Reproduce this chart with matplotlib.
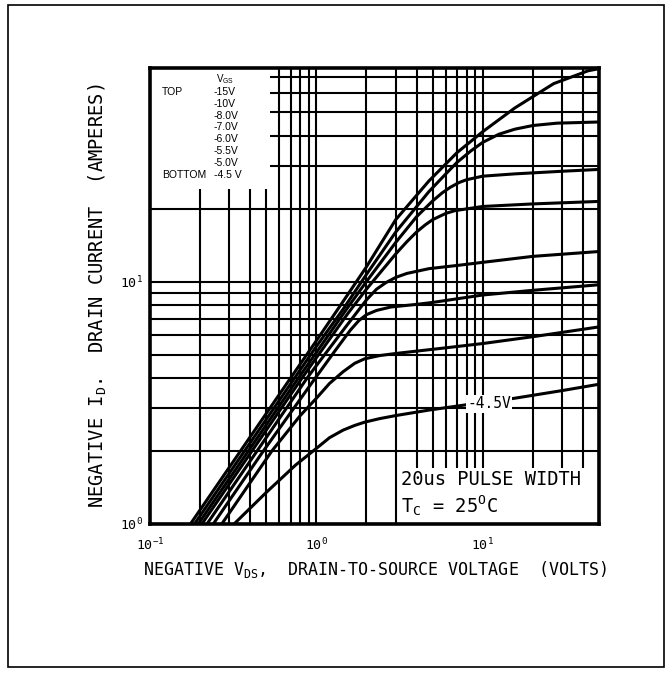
import matplotlib
matplotlib.use("Agg")
import matplotlib.pyplot as plt
from matplotlib.patches import Rectangle
from matplotlib.ticker import NullFormatter

# Output characteristics, one curve per gate voltage (Vds [V], Id [A])
vgs_labels = ["-15V", "-10V", "-8.0V", "-7.0V", "-6.0V", "-5.5V", "-5.0V", "-4.5 V"]

vds_15 = [0.175, 0.35, 0.7, 1.0, 1.4, 2.0, 3.0, 4.75, 7, 10, 15.6, 26.7, 43, 50]
id_15 = [1, 2, 4, 5.7, 8, 11.5, 18, 26, 34, 41.5, 52, 65.5, 74, 75.5]

vds_10 = [0.185, 0.37, 0.74, 1.0, 1.45, 2.0, 3.0, 4.75, 6, 7, 8.5, 10, 12.5, 15.6, 20, 28, 50]
id_10 = [1, 2, 4, 5.4, 7.7, 10.7, 16, 23.5, 27.8, 31, 34.6, 37.5, 40.5, 42.5, 44, 45, 45.5]

vds_8 = [0.195, 0.39, 0.78, 1.0, 1.5, 2.0, 3.0, 4.0, 5.0, 5.7, 6.4, 7.2, 8, 10, 15.6, 30, 50]
id_8 = [1, 2, 4, 5.1, 7.6, 10, 14.5, 18.5, 21.5, 23.2, 24.5, 25.6, 26.3, 27.2, 27.8, 28.5, 29]

vds_7 = [0.205, 0.41, 0.82, 1.0, 1.55, 2.0, 3.0, 3.5, 4.0, 4.5, 5.0, 6.0, 6.8, 10, 20, 50]
id_7 = [1, 2, 4, 4.85, 7.4, 9.3, 13, 14.6, 16, 17.1, 18, 19.1, 19.6, 20.4, 20.9, 21.4]

vds_6 = [0.22, 0.44, 0.88, 1.0, 1.5, 2.0, 2.3, 2.62, 3.0, 3.5, 4.75, 7.4, 10, 20, 50]
id_6 = [1, 2, 4, 4.5, 6.5, 8.4, 9.3, 9.9, 10.4, 10.8, 11.3, 11.7, 12.0, 12.7, 13.3]

vds_55 = [0.24, 0.48, 0.96, 1.3, 1.6, 1.8, 2.0, 2.3, 2.8, 4, 5, 10, 20, 50]
id_55 = [1, 2, 3.9, 5.2, 6.3, 6.9, 7.3, 7.6, 7.85, 8.05, 8.2, 8.8, 9.2, 9.7]

vds_5 = [0.27, 0.54, 0.8, 1.0, 1.2, 1.45, 1.7, 1.95, 2.4, 3, 5.6, 10, 21, 50]
id_5 = [1, 2, 2.8, 3.3, 3.8, 4.25, 4.6, 4.8, 4.95, 5.05, 5.3, 5.55, 5.95, 6.5]

vds_45 = [0.32, 0.5, 0.75, 1.0, 1.2, 1.45, 1.7, 1.95, 2.4, 3, 4.75, 7.9, 15.5, 30, 50]
id_45 = [1, 1.35, 1.75, 2.05, 2.27, 2.44, 2.55, 2.63, 2.72, 2.8, 2.95, 3.1, 3.3, 3.55, 3.77]

curves = [(vds_15, id_15), (vds_10, id_10), (vds_8, id_8), (vds_7, id_7),
          (vds_6, id_6), (vds_55, id_55), (vds_5, id_5), (vds_45, id_45)]

plt.rcParams["font.family"] = "DejaVu Sans Mono"
sans = "Liberation Sans"

fig = plt.figure(figsize=(6.72, 6.77), dpi=100)
fig.patches.append(Rectangle((0.012, 0.015), 0.976, 0.978, transform=fig.transFigure,
                             fill=False, edgecolor="black", linewidth=1.2))

ax = fig.add_axes([0.2232, 0.226, 0.6682, 0.6736])
ax.set_xscale("log")
ax.set_yscale("log")
ax.set_xlim(0.1, 50)
ax.set_ylim(1, 76)

ax.set_axisbelow(True)
ax.grid(which="both", color="black", linewidth=1.5)
for s in ax.spines.values():
    s.set_linewidth(2.6)

for vds, idr in curves:
    ax.plot(vds, idr, color="black", linewidth=2.2, zorder=3, solid_joinstyle="round")

ax.tick_params(which="both", length=0)
ax.xaxis.set_minor_formatter(NullFormatter())
ax.yaxis.set_minor_formatter(NullFormatter())
ax.tick_params(axis="x", pad=9, labelsize=9.5)
ax.tick_params(axis="y", pad=5, labelsize=9.5)

# legend block (white panel over the grid)
ax.add_patch(Rectangle((0, 0.735), 0.267, 0.265, transform=ax.transAxes,
                       facecolor="white", edgecolor="none", zorder=1))
ax.text(0.147, 0.975, r"V$_{\mathregular{GS}}$", transform=ax.transAxes,
        fontsize=7, family=sans, va="center")
row_y = [0.947, 0.921, 0.895, 0.871, 0.845, 0.819, 0.792, 0.766]
for lab, yy in zip(vgs_labels, row_y):
    ax.text(0.142, yy, lab, transform=ax.transAxes, fontsize=7.5, family=sans, va="center")
ax.text(0.027, row_y[0], "TOP", transform=ax.transAxes, fontsize=7.5, family=sans, va="center")
ax.text(0.027, row_y[-1], "BOTTOM", transform=ax.transAxes, fontsize=7.5, family=sans, va="center")

# test conditions panel
ax.add_patch(Rectangle((0.553, 0.0), 0.447, 0.123, transform=ax.transAxes,
                       facecolor="white", edgecolor="none", zorder=1))
ax.text(0.56, 0.097, "20us PULSE WIDTH", transform=ax.transAxes, fontsize=13.5,
        va="center")
ax.text(0.56, 0.04, r"T$_{\mathregular{C}}$ = 25$^{\mathregular{O}}$C", transform=ax.transAxes,
        fontsize=13.5, va="center")

ax.text(10.9, 3.13, "-4.5V", fontsize=10.5, ha="center", va="center", zorder=4,
        bbox=dict(facecolor="white", edgecolor="none", pad=1))

ax.set_xlabel(r"NEGATIVE V$_{\mathregular{DS}}$,  DRAIN-TO-SOURCE VOLTAGE  (VOLTS)",
              fontsize=12, labelpad=4)
ax.set_ylabel(r"NEGATIVE I$_{\mathregular{D}}$.  DRAIN CURRENT  (AMPERES)",
              fontsize=13.5, labelpad=8)

fig.savefig("out.png", dpi=100)
